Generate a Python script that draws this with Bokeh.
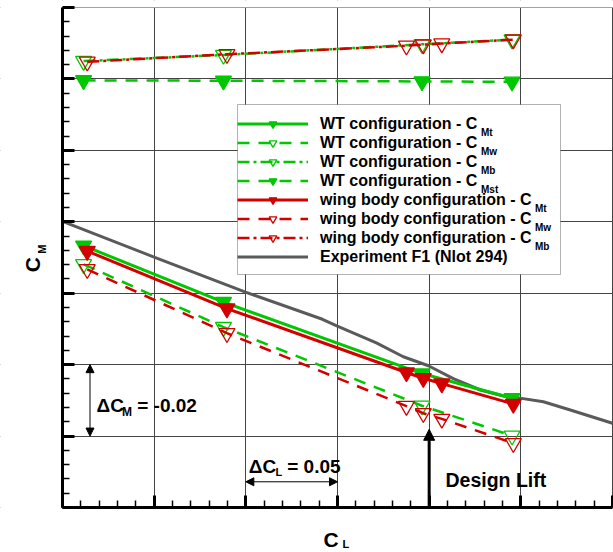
import math
from bokeh.plotting import figure
from bokeh.models import (Range1d, FixedTicker, Legend, LegendItem, Label,
                          Arrow, NormalHead, LinearAxis, Grid, BoxAnnotation)
from bokeh.embed import file_html
from bokeh.resources import INLINE

# ---------------- data ----------------
WT_CL = [0.3115, 0.3878, 0.4961, 0.5452]
WT_CMT = [-0.0467, -0.0625, -0.0825, -0.0894]
WT_CMW = [-0.0519, -0.0695, -0.0915, -0.0999]
WT_CMB = [0.0050, 0.0067, 0.0097, 0.0110]
WT_CMST = [-0.0004, -0.0005, -0.0007, -0.0008]

WB_CL = [0.3135, 0.3897, 0.4876, 0.4968, 0.5069, 0.5459]
WB_CMT = [-0.0482, -0.0643, -0.0822, -0.0838, -0.0853, -0.0910]
WB_CMW = [-0.0533, -0.0712, -0.0916, -0.0936, -0.0952, -0.1020]
WB_CMB = [0.0048, 0.0069, 0.0093, 0.0096, 0.0099, 0.0110]

EXP_CL = [0.300, 0.3496, 0.3998, 0.4418, 0.4499, 0.4712, 0.4859, 0.4996,
          0.5132, 0.5279, 0.5405, 0.5486, 0.5623, 0.5770, 0.600]
EXP_CM = [-0.0399, -0.0498, -0.0597, -0.0673, -0.0692, -0.0739, -0.0778,
          -0.0803, -0.0839, -0.0871, -0.0888, -0.0893, -0.0904, -0.0927,
          -0.0964]

CL_MIN, CL_MAX = 0.30, 0.60
CM_MIN, CM_MAX = -0.12, 0.02
X_MAJOR = [0.30, 0.35, 0.40, 0.45, 0.50, 0.55, 0.60]
X_MINOR = [round(0.30 + 0.01 * i, 2) for i in range(31)]
Y_MAJOR = [-0.12, -0.10, -0.08, -0.06, -0.04, -0.02, 0.0, 0.02]
Y_MINOR = [round(-0.12 + 0.004 * i, 3) for i in range(36)]

LEGEND_MAIN = ["WT configuration - C", "WT configuration - C",
               "WT configuration - C", "WT configuration - C",
               "wing body configuration - C", "wing body configuration - C",
               "wing body configuration - C", "Experiment F1 (Nlot 294)"]
LEGEND_SUB = ["Mt", "Mw", "Mb", "Mst", "Mt", "Mw", "Mb", ""]

DESIGN_CL = 0.50
DESIGN_TIP = -0.0981
DCM_CL, DCM_FROM, DCM_TO = 0.315, -0.08, -0.10
DCL_FROM, DCL_TO, DCL_CM = 0.40, 0.45, -0.1128

GREEN = "#00c800"
RED = "#d40000"
GREY = "#5a5a5a"
FONT = "Liberation Sans"

# ---------------- layout (canvas pixels) ----------------
W, H = 613, 550
X0, X1 = 62, 612      # pixel columns of CL_MIN and CL_MAX
Y0, Y1 = 7, 507       # pixel rows of CM_MAX and CM_MIN
SX = (CL_MAX - CL_MIN) / (X1 - X0)
SY = (CM_MAX - CM_MIN) / (Y1 - Y0)


def cl(px):
    return CL_MIN + (px - X0) * SX


def cm(py):
    return CM_MAX - (py - Y0) * SY


p = figure(width=W, height=H, title=None,
           x_range=Range1d(cl(0), cl(W)), y_range=Range1d(cm(H), cm(0)),
           x_axis_location=None, y_axis_location=None,
           output_backend="svg", toolbar_location=None, min_border=0)
p.background_fill_color = "white"
p.border_fill_color = "white"
p.outline_line_color = None

# grid lines, then white masks outside the data box
p.add_layout(Grid(dimension=0, ticker=FixedTicker(ticks=X_MAJOR),
                  grid_line_color="#444444", grid_line_width=1))
p.add_layout(Grid(dimension=1, ticker=FixedTicker(ticks=Y_MAJOR),
                  grid_line_color="#444444", grid_line_width=1))
p.add_layout(BoxAnnotation(right=CL_MIN, fill_color="white", fill_alpha=1,
                           line_color=None, level="underlay"))
p.add_layout(BoxAnnotation(top=CM_MIN, fill_color="white", fill_alpha=1,
                           line_color=None, level="underlay"))
p.add_layout(BoxAnnotation(bottom=CM_MAX, fill_color="white", fill_alpha=1,
                           line_color=None, level="underlay"))


def axis(loc, bounds, ticks, minor):
    return LinearAxis(fixed_location=loc, bounds=bounds,
                      ticker=FixedTicker(ticks=ticks, minor_ticks=minor),
                      axis_line_width=3, axis_line_color="black",
                      major_tick_in=12, major_tick_out=0, major_tick_line_width=3,
                      minor_tick_in=7, minor_tick_out=0, minor_tick_line_width=1.5,
                      major_label_text_font_size="0px",
                      major_label_text_color=None,
                      major_label_standoff=0, axis_label=None)


p.add_layout(axis(CM_MIN, (CL_MIN, CL_MAX), X_MAJOR, X_MINOR), "below")
p.add_layout(axis(CL_MIN, (CM_MIN, CM_MAX), Y_MAJOR, Y_MINOR), "left")

# experiment
r_exp = p.line(EXP_CL, EXP_CM, line_color=GREY, line_width=3)


def series(x, y, color, dash, filled):
    ln = p.line(x, y, line_color=color, line_width=3 if dash == "solid" else 2.5,
                line_dash=dash)
    sc = p.scatter(x, y, marker="inverted_triangle", size=16,
                   line_color=color, line_width=1.3,
                   fill_color=color if filled else None)
    return [ln, sc]


r1 = series(WT_CL, WT_CMT, GREEN, "solid", True)
r2 = series(WT_CL, WT_CMW, GREEN, "12 9", False)
r3 = series(WT_CL, WT_CMB, GREEN, "12 4 3 4", False)
r4 = series(WT_CL, WT_CMST, GREEN, "12 9", True)
r5 = series(WB_CL, WB_CMT, RED, "solid", True)
r6 = series(WB_CL, WB_CMW, RED, "12 9", False)
r7 = series(WB_CL, WB_CMB, RED, "12 4 3 4", False)

# legend: white box, transparent bokeh legend on it, subscripts on top
LEG_L, LEG_T, LEG_R = 237, 104, 560
ROW, PAD, GLYPH_W, STANDOFF = 19, 9, 71, 12
LEG_B = LEG_T + 8 * ROW + 2 * PAD
ROW_SHIFT = 8
p.add_layout(BoxAnnotation(left=cl(LEG_L), right=cl(LEG_R), top=cm(LEG_T),
                           bottom=cm(LEG_B), fill_color="white", fill_alpha=1,
                           line_color="black", line_width=1))
rends = [r1, r2, r3, r4, r5, r6, r7, [r_exp]]
items = [LegendItem(label=LEGEND_MAIN[i], renderers=rends[i]) for i in range(8)]
text_x = LEG_L + PAD + GLYPH_W + STANDOFF
legend = Legend(items=items, location=(LEG_L, H - LEG_B + ROW_SHIFT),
                glyph_width=GLYPH_W, glyph_height=ROW, label_height=ROW,
                label_width=LEG_R - PAD - text_x,
                label_standoff=STANDOFF, spacing=0, padding=PAD, margin=0,
                border_line_color=None, background_fill_alpha=0,
                label_text_font=FONT, label_text_font_style="bold",
                label_text_font_size="16px", label_text_color="black")
p.add_layout(legend)


def lbl(text, px, py, size, angle=0.0):
    p.add_layout(Label(x=cl(px), y=cm(py), text=text,
                       text_font=FONT, text_font_style="bold",
                       text_font_size=f"{size}px", text_baseline="alphabetic",
                       text_align="left", angle=angle, text_color="black",
                       level="overlay"))


for i, sub in enumerate(LEGEND_SUB):
    if not sub:
        continue
    sx = text_x + (151.5 if i < 4 else 205.5)
    lbl(sub, sx, LEG_T + PAD + ROW / 2 + 9.4 + ROW * i, 10)

# axis titles
lbl("C", 31.7, 271.7, 21, angle=math.pi / 2)
lbl("M", 41.0, 253.3, 11, angle=math.pi / 2)
lbl("C", 323, 539, 21)
lbl("L", 342, 543, 11)

# delta CM annotation
head = dict(fill_color="black", line_color="black")
p.add_layout(Arrow(x_start=DCM_CL, y_start=DCM_FROM, x_end=DCM_CL, y_end=DCM_TO,
                   line_width=1, line_color="black",
                   start=NormalHead(size=8, **head), end=NormalHead(size=8, **head)))
lbl("\u0394C", 96, 405, 19)
lbl("M", 121.5, 411, 12)
lbl("= -0.02", 136.7, 405, 19)

# delta CL annotation
p.add_layout(Arrow(x_start=DCL_FROM, y_start=DCL_CM, x_end=DCL_TO, y_end=DCL_CM,
                   line_width=1, line_color="black",
                   start=NormalHead(size=8, **head), end=NormalHead(size=8, **head)))
lbl("\u0394C", 248.3, 466, 19)
lbl("L", 275, 471.7, 11)
lbl("= 0.05", 286.7, 466, 19)

# design lift
p.add_layout(Arrow(x_start=DESIGN_CL, y_start=CM_MIN, x_end=DESIGN_CL,
                   y_end=DESIGN_TIP, line_width=3, line_color="black",
                   end=NormalHead(size=11, **head)))
lbl("Design Lift", 445, 479.3, 19.5)

open("out.html", "w").write(file_html(p, INLINE))
